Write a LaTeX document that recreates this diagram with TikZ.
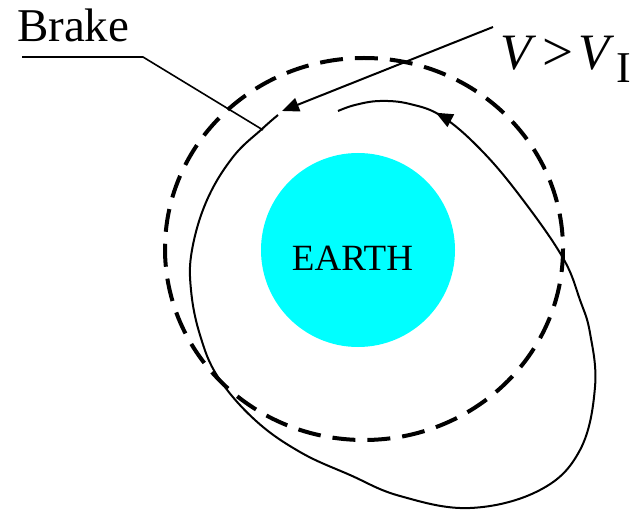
\documentclass[tikz,border=0pt]{standalone}
\usepackage{fontspec}
\setmainfont{Liberation Serif}
\usetikzlibrary{arrows.meta,decorations.markings}
\definecolor{earthcyan}{RGB}{0,255,255}
\tikzset{
  orbitline/.style={line width=2pt, line join=round},
  leader/.style={line width=1.6pt},
  parking/.style={line width=4pt, dash pattern=on 23pt off 12pt},
  tri/.tip={Triangle[length=17pt,width=14pt]},
  lbl/.style={inner sep=0pt, outer sep=0pt},
}
\begin{document}
\begin{tikzpicture}[x=1pt,y=-1pt]
\useasboundingbox (0,0) rectangle (634,510);
% Earth
\fill[earthcyan] (358,250) circle[radius=97];
\node[lbl, anchor=base, font=\fontsize{37}{40}\selectfont] (earth) at (352.5,271) {EARTH};
% dashed circular orbit
\draw[parking] (364,249) ellipse[x radius=199, y radius=191];
% transfer / elliptic orbit
\draw[orbitline, postaction={decorate}, decoration={markings,
   mark=at position -101pt with {\arrow{tri}}}]
  plot[smooth, tension=0.65] coordinates {
  (278,115) (262,129) (233,157) (207,200) (192,250) (191,290) (200,335)
  (218,377) (255,420) (300,452) (350,475) (400,496) (470,508) (540,490)
  (580,450) (595,387) (590,333) (580,300) (563,258) (523,200) (483,152)
  (443,117) (410,104) (380,101) (355,105) (338,111)};
% Brake label and leader
\node[lbl, anchor=base west, font=\fontsize{47}{50}\selectfont] (brake) at (17,42) {Brake};
\coordinate (b1) at (22,57);
\coordinate (b2) at (143,57);
\coordinate (b3) at (263,130);
\draw[leader] (b1) -- (b2) -- (b3);
% velocity label
\node[lbl, anchor=base, font=\fontsize{51}{54}\selectfont\itshape] (v1) at (516,70) {V};
\node[lbl, anchor=base, font=\fontsize{55}{60}\selectfont] (gt) at (558.5,71) {>};
\node[lbl, anchor=base, font=\fontsize{51}{54}\selectfont\itshape] (v2) at (594,70) {V};
\node[lbl, anchor=base, font=\fontsize{44}{46}\selectfont] (sub) at (624,83) {I};
\coordinate (a1) at (493,27);
\coordinate (a2) at (282,111);
\draw[line width=2pt, -{tri}] (a1) -- (a2);
\end{tikzpicture}
\end{document}
